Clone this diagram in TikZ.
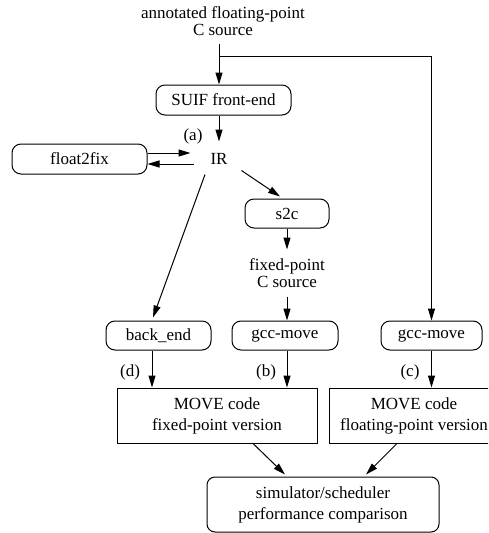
\documentclass[tikz,border=0pt]{standalone}
\usepackage{fontspec}
\setmainfont{Liberation Serif}
\usetikzlibrary{arrows.meta,calc}
\begin{document}
\begin{tikzpicture}[x=1pt,y=-1pt,
  font=\fontsize{17}{21}\selectfont,
  line width=1pt,
  rbox/.style={draw,rounded corners=9pt,inner sep=0pt,align=center},
  sbox/.style={draw,inner sep=0pt,align=center},
  plain/.style={inner sep=0pt,align=center},
  arr/.style={-{Triangle[length=12pt,width=7pt]}}]
\useasboundingbox (0,0) rectangle (488,533);
\clip (0,0) rectangle (488,533);
% nodes
\node[plain,minimum height=43pt,font=\fontsize{17}{17}\selectfont] (src) at (223,21.5) {annotated floating-point\\C source};
\node[rbox,minimum width=135pt,minimum height=30pt] (suif) at (223.5,100) {SUIF front-end};
\node[plain,minimum width=54pt,minimum height=33pt] (ir) at (219,158.5) {IR};
\node[plain] (la) at (193,136) {(a)};
\node[rbox,minimum width=135pt,minimum height=30pt] (f2f) at (79.5,159) {float2fix};
\node[rbox,minimum width=84pt,minimum height=29pt] (s2c) at (287,213.5) {s2c};
\node[plain,minimum height=46pt,font=\fontsize{17}{16.5}\selectfont] (fixed) at (287,273) {fixed-point\\C source};
\node[rbox,minimum width=105pt,minimum height=29pt] (back) at (158.5,335.5) {back\_end};
\node[rbox,minimum width=106pt,minimum height=29pt] (gccm) at (285,335.5) {gcc-move};
\node[rbox,minimum width=101pt,minimum height=29pt] (gccr) at (431.5,335.5) {gcc-move};
\node[plain] (ld) at (130,372) {(d)};
\node[plain] (lb) at (266,372) {(b)};
\node[plain] (lc) at (410,372) {(c)};
\node[sbox,minimum width=200pt,minimum height=55pt] (mfix) at (217,415.5) {MOVE code\\fixed-point version};
\node[sbox,minimum width=170pt,minimum height=55pt] (mflt) at (414,415.5) {MOVE code\\floating-point version};
\node[rbox,rounded corners=8pt,minimum width=232pt,minimum height=55pt] (sim) at (323,504.5) {simulator/scheduler\\performance comparison};
\coordinate (br) at (219,56);
\coordinate (bs) at ($(back.south)+(-6.5,0)$);
% connectors
\draw[arr] (src.south -| ir) -- (suif.north -| ir);
\draw[arr] (br) -| (gccr.north);
\draw[arr] (suif.south -| ir) -- (ir.north);
\draw[arr] ($(f2f.east)+(0,-6)$) -- ($(ir.west)+(-1,-5.5)$);
\draw[arr] ($(ir.west)+(2,5.5)$) -- ($(f2f.east)+(0,5)$);
\draw[arr] ($(ir.south)+(-14,-1)$) -- ($(back.north)+(-5.5,-3)$);
\draw[arr] ($(ir.south east)+(-5,-5)$) -- ($(s2c.north)+(-7,-2)$);
\draw[arr] (s2c.south) -- (fixed.north);
\draw[arr] (fixed.south) -- (gccm.north -| fixed.south);
\draw[arr] (bs) -- (bs |- mfix.north);
\draw[arr] (gccm.south -| s2c) -- (mfix.north -| s2c);
\draw[arr] (gccr.south) -- (gccr.south |- mflt.north);
\draw[arr] ($(mfix.south)+(36,0)$) -- ($(sim.north)+(-38,-2)$);
\draw[arr] ($(mflt.south)+(-17,0)$) -- ($(sim.north)+(43,-2)$);
\end{tikzpicture}
\end{document}
